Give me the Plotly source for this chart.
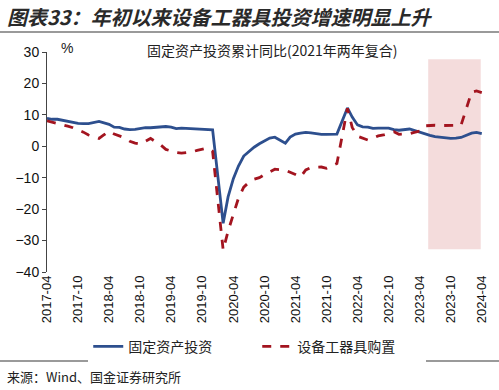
import plotly.graph_objects as go
import pandas as pd

# ---- data ----
months_2017 = ["2017-%02d" % m for m in range(4, 13)]
def yr(y):
    return ["%d-%02d" % (y, m) for m in range(2, 13)]
dates = months_2017 + yr(2018) + yr(2019) + yr(2020) + yr(2021) + yr(2022) + yr(2023) + ["2024-02", "2024-03", "2024-04"]

fai = [8.9, 8.6, 8.6, 8.3, 7.8, 7.5, 7.3, 7.2, 7.2,
       7.9, 7.5, 7.0, 6.1, 6.0, 5.5, 5.3, 5.4, 5.7, 5.9, 5.9,
       6.1, 6.3, 6.1, 5.6, 5.8, 5.7, 5.5, 5.4, 5.2, 5.2, 5.2,
       -24.5, -16.1, -10.3, -6.3, -3.1, -1.6, -0.3, 0.8, 1.8, 2.6, 2.9,
       1.0, 2.9, 3.9, 4.2, 4.4, 4.3, 4.0, 3.8, 3.8, 3.9, 3.9,
       12.2, 9.3, 6.8, 6.2, 6.1, 5.7, 5.8, 5.9, 5.8, 5.3, 5.1,
       5.5, 5.0, 4.5, 3.8, 3.5, 3.1, 2.9, 2.7, 2.5, 2.6, 2.8,
       4.2, 4.4, 4.0]

equip = [8.1, 7.7, 7.4, 6.9, 6.4, 5.9, 5.3, 4.5, 3.6,
         2.5, 3.6, 4.8, 3.9, 3.2, 2.7, 1.6, 1.0, 0.7, 1.5, 2.5,
         0.3, -1.0, -1.5, -2.0, -2.2, -2.1, -1.8, -1.3, -0.8, -0.5, -1.6,
         -33.0, -27.0, -21.5, -16.5, -13.0, -11.5, -10.5, -10.0, -9.0, -8.2, -7.3,
         -7.6, -8.2, -9.0, -9.8, -7.5, -6.8, -6.6, -6.6, -7.0, -6.3, -5.5,
         12.1, 6.0, 3.2, 2.5, 2.0, 2.6, 3.3, 3.6, 4.2, 4.6, 3.8,
         4.0, 4.4, 4.8, 6.5, 6.7, 6.7, 6.6, 6.6, 6.6, 6.6, 6.7,
         17.2, 17.6, 17.1]

names = ["固定资产投资", "设备工器具购置"]
tick_dates = ["2017-04", "2017-10", "2018-04", "2018-10", "2019-04", "2019-10", "2020-04",
              "2020-10", "2021-04", "2021-10", "2022-04", "2022-10", "2023-04", "2023-10", "2024-04"]
y_ticks = [30, 20, 10, 0, -10, -20, -30, -40]
shade_x = ["2023-05-22", "2024-03-26"]
shade_y = [-32.8, 27.7]

x = pd.to_datetime(dates)
tickvals = pd.to_datetime(tick_dates)

BLUE = "#2D4F8E"
RED = "#A3141F"
FONT = "Liberation Sans, Arial, sans-serif"
CJK = "Noto Sans CJK SC, sans-serif"

fig = go.Figure()
fig.add_trace(go.Scatter(x=x, y=fai, mode="lines", name=names[0],
                         line=dict(color=BLUE, width=2.8)))
fig.add_trace(go.Scatter(x=x, y=equip, mode="lines", name=names[1],
                         line=dict(color=RED, width=2.8, dash="dash")))

fig.add_shape(type="rect", xref="x", yref="y", x0=shade_x[0], x1=shade_x[1],
              y0=shade_y[0], y1=shade_y[1], fillcolor="#F4DCDC", line_width=0, layer="below")

# decorative lines (title rule, footer rule)
fig.add_shape(type="line", xref="paper", yref="paper", x0=-0.11, x1=1.04,
              y0=1.0909, y1=1.0909, line=dict(color="#9A9A9A", width=2))
fig.add_shape(type="line", xref="paper", yref="paper", x0=-0.11, x1=1.04,
              y0=-0.4045, y1=-0.4045, line=dict(color="#9A9A9A", width=2))

fig.add_annotation(text="<b><i>图表33：年初以来设备工器具投资增速明显上升</i></b>", xref="paper", yref="paper",
                   x=-0.096, y=1.1636, xanchor="left", yanchor="middle", showarrow=False,
                   font=dict(family=CJK, size=20, color="#2A2A2A"))
fig.add_annotation(text="固定资产投资累计同比(2021年两年复合)", xref="paper", yref="paper",
                   x=0.514, y=1.01, xanchor="center", yanchor="middle", showarrow=False,
                   font=dict(family=CJK, size=14, color="#222"))
fig.add_annotation(text="%", xref="paper", yref="paper",
                   x=0.046, y=1.02, xanchor="center", yanchor="middle", showarrow=False,
                   font=dict(family=FONT, size=14, color="#222"))
fig.add_annotation(text="来源：Wind、国金证券研究所", xref="paper", yref="paper",
                   x=-0.096, y=-0.477, xanchor="left", yanchor="middle", showarrow=False,
                   font=dict(family=CJK, size=13, color="#222"))

fig.update_layout(
    width=499, height=390,
    margin=dict(l=47, r=14, t=52, b=118),
    paper_bgcolor="white", plot_bgcolor="white",
    showlegend=True,
    legend=dict(orientation="h", x=0.48, y=-0.34, xanchor="center", yanchor="middle",
                font=dict(family=CJK, size=14, color="#222"), entrywidth=124, entrywidthmode="pixels"),
    xaxis=dict(type="date", range=["2017-04-01", "2024-04-20"], tickvals=tickvals,
               ticktext=tick_dates, tickangle=-90, showgrid=False, showline=False,
               ticks="", zeroline=False, automargin=False,
               tickfont=dict(family=FONT, size=13, color="#111")),
    xaxis2=dict(type="date", overlaying="x", matches="x", anchor="free", position=40/70,
                range=["2017-04-01", "2024-04-20"], tickvals=tickvals,
                showticklabels=False, showline=True, linecolor="#444", linewidth=1,
                ticks="outside", ticklen=4, tickcolor="#444", showgrid=False, zeroline=False),
    yaxis=dict(range=[-40, 30], tickvals=y_ticks, showgrid=False, zeroline=False, automargin=False,
               showline=True, linecolor="#444", linewidth=1, ticks="outside", ticklen=4,
               tickcolor="#444", tickfont=dict(family=FONT, size=14, color="#111")),
)

fig.write_html("out.html", config={"displayModeBar": False},
               post_script="document.body.style.margin='0';")
